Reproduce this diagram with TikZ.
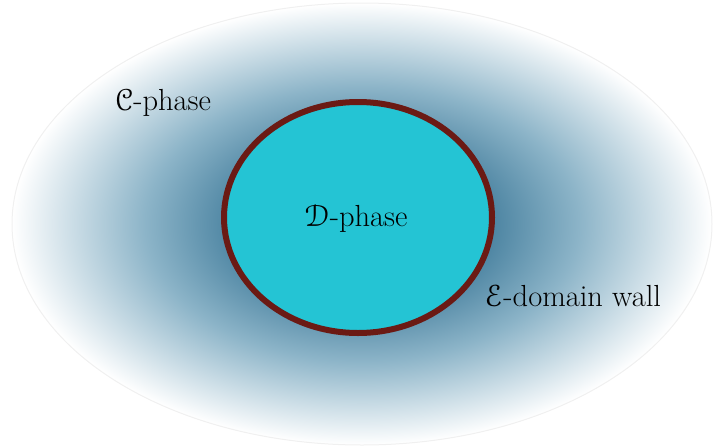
\documentclass[tikz,border=0pt]{standalone}
\usepackage{eucal}
\usetikzlibrary{shapes.geometric}
\definecolor{shadedark}{RGB}{40,105,140}
\definecolor{shademid}{RGB}{140,180,200}
\definecolor{dfill}{RGB}{36,196,212}
\definecolor{wallred}{RGB}{107,26,20}
\pgfdeclareradialshading{outerglow}{\pgfpoint{0bp}{0bp}}{color(0bp)=(shadedark); color(5.6bp)=(shadedark); color(15.5bp)=(shademid); color(25bp)=(white); color(50bp)=(white)}
\tikzset{
  lbl/.style={font=\fontsize{30.5}{36}\selectfont, inner sep=0pt, anchor=center},
  innerell/.style={ellipse, draw=wallred, fill=dfill, line width=6pt, minimum width=268pt, minimum height=231pt, inner sep=0pt}
}
\begin{document}
\begin{tikzpicture}[x=1pt,y=-1pt]
\useasboundingbox (0,0) rectangle (713,445);
\shade[shading=outerglow] (362,224) ellipse [x radius=350, y radius=221];
\draw[black!6, line width=1pt] (362,224) ellipse [x radius=350, y radius=221];
\node[innerell] (dphase) at (358,217.5) {};
\node[lbl] (dlabel) at (356,219) {$\mathcal{D}$-phase};
\node[lbl] (clabel) at (163,103) {$\mathcal{C}$-phase};
\node[lbl] (elabel) at (573,296) {$\mathcal{E}$-domain wall};
\end{tikzpicture}
\end{document}
